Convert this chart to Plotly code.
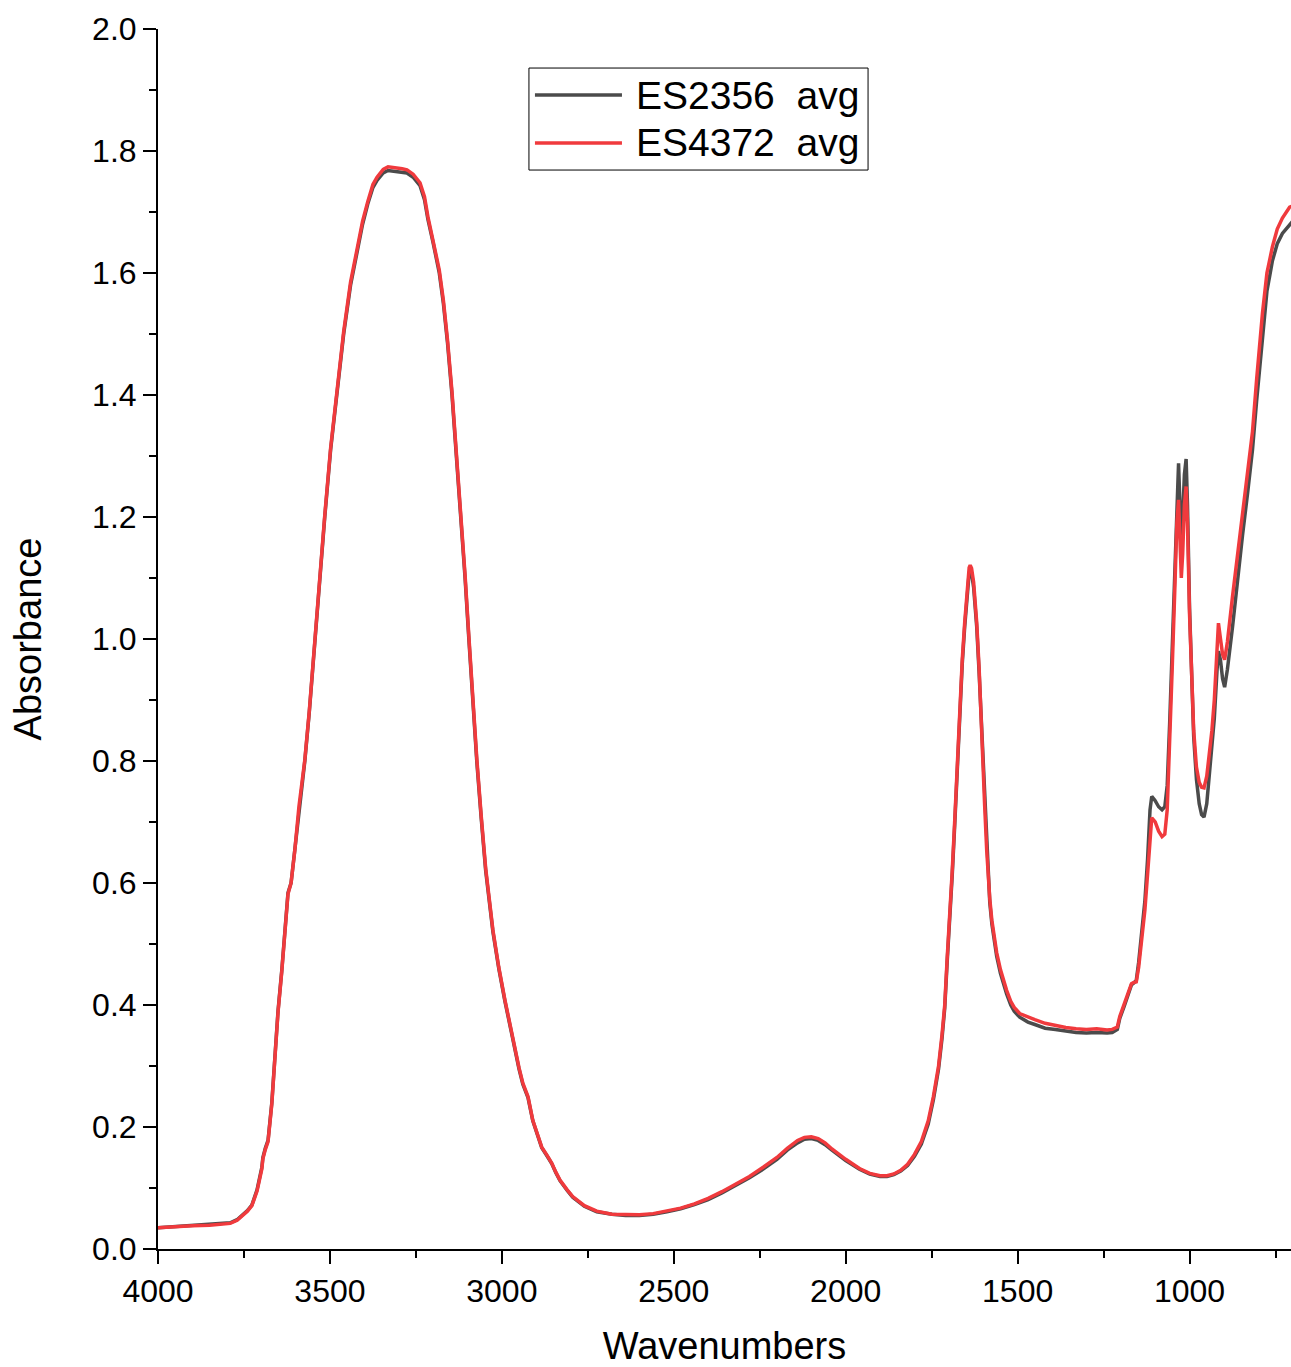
import plotly.graph_objects as go

wavenumbers = [4000, 3950, 3900, 3850, 3800, 3790, 3770, 3753, 3740, 3727, 3712, 3698, 3695, 3688, 3680, 3669, 3660, 3651, 3640, 3631, 3622, 3613, 3602, 3590, 3573, 3560, 3544, 3530, 3515, 3498, 3480, 3460, 3440, 3422, 3405, 3390, 3375, 3363, 3345, 3331, 3310, 3290, 3276, 3258, 3238, 3225, 3215, 3200, 3190, 3182, 3170, 3158, 3145, 3132, 3119, 3107, 3096, 3085, 3073, 3060, 3047, 3026, 3009, 2991, 2968, 2950, 2939, 2924, 2910, 2897, 2884, 2868, 2855, 2843, 2831, 2810, 2794, 2760, 2724, 2680, 2640, 2600, 2560, 2520, 2480, 2440, 2400, 2360, 2320, 2280, 2240, 2200, 2170, 2140, 2120, 2100, 2080, 2060, 2040, 2000, 1960, 1930, 1900, 1880, 1860, 1840, 1820, 1800, 1780, 1760, 1745, 1730, 1720, 1712, 1705, 1698, 1690, 1683, 1676, 1669, 1661, 1654, 1646, 1641, 1638, 1634, 1628, 1619, 1612, 1605, 1600, 1596, 1590, 1585, 1581, 1575, 1568, 1561, 1550, 1540, 1532, 1520, 1510, 1494, 1470, 1450, 1420, 1390, 1360, 1330, 1300, 1270, 1240, 1225, 1210, 1203, 1190, 1180, 1169, 1162, 1155, 1148, 1140, 1130, 1122, 1115, 1110, 1100, 1090, 1080, 1072, 1065, 1058, 1050, 1043, 1037, 1032, 1028, 1024, 1020, 1015, 1010, 1006, 1000, 994, 988, 980, 972, 965, 958, 950, 943, 935, 928, 920, 916, 910, 904, 898, 890, 875, 860, 846, 831, 817, 805, 788, 775, 759, 745, 730, 709, 700]

es2356_avg = [0.035, 0.037, 0.038, 0.040, 0.042, 0.043, 0.048, 0.056, 0.063, 0.072, 0.097, 0.134, 0.150, 0.165, 0.178, 0.240, 0.326, 0.390, 0.457, 0.523, 0.584, 0.600, 0.654, 0.725, 0.800, 0.880, 1.000, 1.090, 1.200, 1.310, 1.400, 1.500, 1.580, 1.635, 1.680, 1.713, 1.740, 1.752, 1.764, 1.768, 1.767, 1.766, 1.764, 1.757, 1.743, 1.720, 1.688, 1.650, 1.625, 1.600, 1.550, 1.485, 1.400, 1.300, 1.200, 1.100, 1.000, 0.900, 0.800, 0.706, 0.620, 0.520, 0.460, 0.406, 0.341, 0.295, 0.270, 0.248, 0.210, 0.186, 0.166, 0.152, 0.140, 0.125, 0.112, 0.096, 0.085, 0.070, 0.061, 0.057, 0.055, 0.055, 0.057, 0.061, 0.066, 0.073, 0.081, 0.092, 0.104, 0.117, 0.131, 0.147, 0.162, 0.174, 0.180, 0.181, 0.178, 0.171, 0.162, 0.145, 0.131, 0.123, 0.119, 0.119, 0.122, 0.128, 0.137, 0.152, 0.172, 0.205, 0.245, 0.295, 0.345, 0.395, 0.470, 0.530, 0.615, 0.695, 0.790, 0.883, 0.960, 1.020, 1.085, 1.108, 1.113, 1.108, 1.085, 1.020, 0.945, 0.860, 0.790, 0.722, 0.648, 0.598, 0.568, 0.533, 0.503, 0.480, 0.452, 0.432, 0.418, 0.400, 0.390, 0.380, 0.372, 0.368, 0.362, 0.360, 0.357, 0.355, 0.354, 0.355, 0.354, 0.355, 0.360, 0.378, 0.398, 0.416, 0.433, 0.436, 0.440, 0.470, 0.510, 0.570, 0.640, 0.720, 0.742, 0.735, 0.725, 0.720, 0.725, 0.760, 0.860, 1.000, 1.120, 1.240, 1.288, 1.220, 1.160, 1.200, 1.270, 1.295, 1.220, 1.050, 0.920, 0.840, 0.770, 0.730, 0.712, 0.708, 0.730, 0.780, 0.820, 0.870, 0.950, 0.980, 0.965, 0.935, 0.921, 0.950, 1.020, 1.100, 1.170, 1.240, 1.310, 1.390, 1.500, 1.570, 1.620, 1.648, 1.665, 1.680, 1.685]

es4372_avg = [0.035, 0.037, 0.038, 0.039, 0.041, 0.042, 0.047, 0.055, 0.062, 0.071, 0.095, 0.131, 0.148, 0.163, 0.176, 0.238, 0.324, 0.388, 0.455, 0.521, 0.582, 0.600, 0.654, 0.726, 0.802, 0.882, 1.002, 1.093, 1.203, 1.313, 1.404, 1.504, 1.585, 1.640, 1.685, 1.717, 1.745, 1.757, 1.770, 1.774, 1.773, 1.771, 1.769, 1.762, 1.748, 1.725, 1.692, 1.655, 1.630, 1.605, 1.555, 1.490, 1.405, 1.305, 1.205, 1.105, 1.005, 0.905, 0.805, 0.710, 0.624, 0.523, 0.462, 0.408, 0.343, 0.297, 0.272, 0.250, 0.211, 0.187, 0.167, 0.153, 0.141, 0.126, 0.113, 0.097, 0.086, 0.071, 0.062, 0.057, 0.056, 0.056, 0.058, 0.062, 0.067, 0.074, 0.083, 0.094, 0.106, 0.119, 0.134, 0.150, 0.165, 0.178, 0.183, 0.184, 0.181, 0.174, 0.164, 0.147, 0.132, 0.124, 0.120, 0.120, 0.123, 0.129, 0.139, 0.155, 0.176, 0.210, 0.250, 0.300, 0.351, 0.400, 0.476, 0.536, 0.622, 0.702, 0.797, 0.890, 0.967, 1.027, 1.093, 1.117, 1.121, 1.116, 1.093, 1.027, 0.952, 0.867, 0.797, 0.728, 0.654, 0.604, 0.574, 0.539, 0.509, 0.486, 0.458, 0.438, 0.424, 0.406, 0.396, 0.386, 0.380, 0.376, 0.370, 0.366, 0.363, 0.361, 0.360, 0.361, 0.359, 0.360, 0.364, 0.381, 0.401, 0.418, 0.435, 0.437, 0.438, 0.462, 0.500, 0.555, 0.615, 0.680, 0.707, 0.700, 0.685, 0.676, 0.680, 0.720, 0.820, 0.960, 1.080, 1.190, 1.228, 1.160, 1.100, 1.140, 1.220, 1.250, 1.190, 1.040, 0.920, 0.850, 0.790, 0.765, 0.757, 0.756, 0.775, 0.810, 0.850, 0.900, 0.990, 1.026, 1.000, 0.975, 0.966, 0.995, 1.070, 1.140, 1.210, 1.270, 1.340, 1.425, 1.534, 1.600, 1.643, 1.672, 1.690, 1.708, 1.710]

series_names = ["ES2356\u00a0\u00a0avg", "ES4372\u00a0\u00a0avg"]
series_colors = ["#4b4b4b", "#f03a3d"]

x_title = "Wavenumbers"
y_title = "Absorbance"

FONT = "Liberation Sans, Arial, sans-serif"

fig = go.Figure()
fig.add_trace(go.Scatter(x=wavenumbers, y=es2356_avg, mode="lines",
                         line=dict(color=series_colors[0], width=3.5),
                         name=series_names[0], showlegend=False))
fig.add_trace(go.Scatter(x=wavenumbers, y=es4372_avg, mode="lines",
                         line=dict(color=series_colors[1], width=3.5),
                         name=series_names[1], showlegend=False))

# custom legend (box, line samples, labels) in paper coordinates
lx0, lx1, ly0, ly1 = 0.3274, 0.6267, 0.8844, 0.968
fig.add_shape(type="rect", xref="paper", yref="paper", x0=lx0, x1=lx1, y0=ly0, y1=ly1,
              line=dict(color="black", width=1), fillcolor="white", layer="above")
legend_rows = [0.9459, 0.9066]
for name, color, yy in zip(series_names, series_colors, legend_rows):
    fig.add_shape(type="line", xref="paper", yref="paper", x0=0.3327, x1=0.4095, y0=yy, y1=yy,
                  line=dict(color=color, width=3.5), layer="above")
    fig.add_annotation(xref="paper", yref="paper", x=0.4205, y=yy, text=name, showarrow=False,
                       xanchor="left", yanchor="middle", font=dict(family=FONT, size=39, color="black"))

fig.update_layout(
    width=1291, height=1367,
    margin=dict(l=158, r=0, t=29, b=118),
    paper_bgcolor="white", plot_bgcolor="white",
    font=dict(family=FONT, size=32, color="black"),
    showlegend=False,
)
fig.update_xaxes(
    range=[4000, 705], autorange=False,
    showline=True, linecolor="black", linewidth=2, mirror=False,
    showgrid=False, zeroline=False,
    ticks="outside", ticklen=13, tickwidth=2, tickcolor="black",
    tick0=0, dtick=500,
    minor=dict(ticks="outside", ticklen=7, tickwidth=2, tickcolor="black", dtick=250, tick0=0, showgrid=False),
    tickfont=dict(family=FONT, size=32, color="black"),
    title=dict(text=x_title, font=dict(family=FONT, size=38, color="black"), standoff=27),
)
fig.update_yaxes(
    range=[0, 2.0], autorange=False,
    showline=True, linecolor="black", linewidth=2, mirror=False,
    showgrid=False, zeroline=False,
    ticks="outside", ticklen=13, tickwidth=2, tickcolor="black",
    tick0=0, dtick=0.2, tickformat=".1f",
    minor=dict(ticks="outside", ticklen=7, tickwidth=2, tickcolor="black", dtick=0.1, tick0=0, showgrid=False),
    tickfont=dict(family=FONT, size=32, color="black"),
    title=dict(text=y_title, font=dict(family=FONT, size=38, color="black"), standoff=39),
)

fig.write_html("out.html")
